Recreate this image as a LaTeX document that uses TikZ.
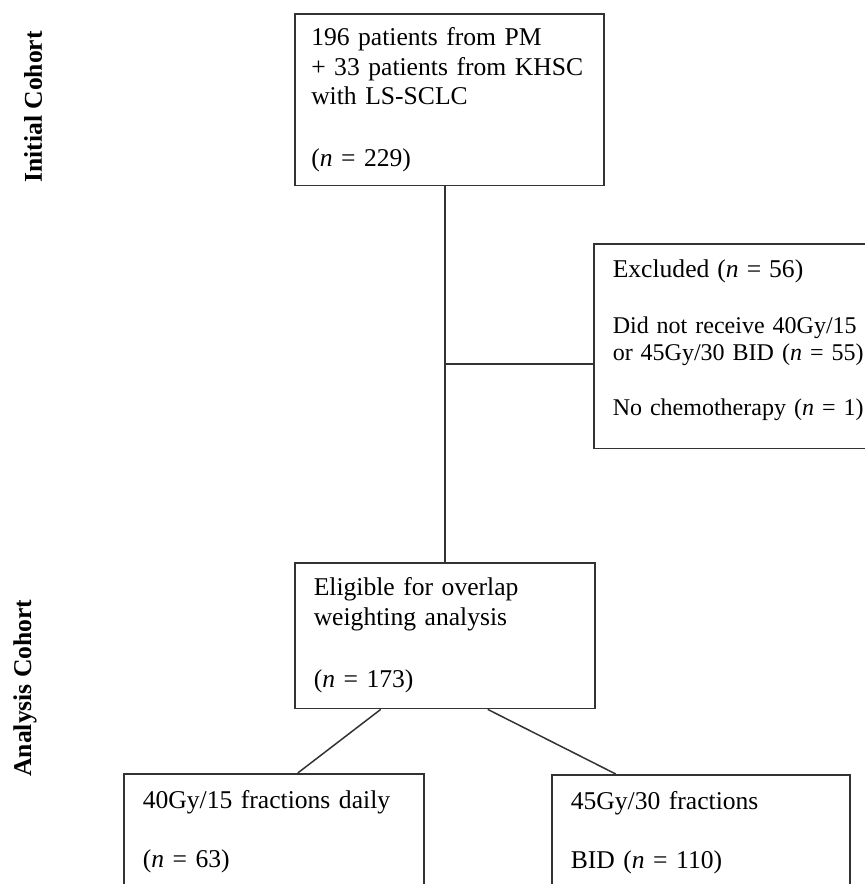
\documentclass[tikz,border=0pt]{standalone}
\usepackage{fontspec}
\setmainfont{Liberation Serif}
\usetikzlibrary{positioning}

\newcommand{\mainsize}{\fontsize{12.8pt}{14.75pt}\selectfont}
\newcommand{\smallsize}{\fontsize{12pt}{13.5pt}\selectfont}

\tikzset{
	box/.style={draw=black!80, line width=0.75pt, align=left, anchor=north west,
		font=\mainsize, inner xsep=9.5pt, inner ysep=7pt},
	link/.style={draw=black!80, line width=0.75pt},
	cohort/.style={rotate=90, font=\mainsize\bfseries}
}

\begin{document}
\begin{tikzpicture}[x=0.5pt, y=-0.5pt]
	\useasboundingbox (0,0) rectangle (865,884);
	\clip (0,0) rectangle (865,884);

	% cohort labels
	\node[cohort] (initlabel) at (33,107) {Initial Cohort};
	\node[cohort] (analysislabel) at (25,688) {Analysis Cohort};

	% boxes
	\node[box, text width=138pt, inner xsep=8.25pt, inner ysep=7pt] (initial) at (294,13)
		{196 patients from PM\\ + 33 patients from KHSC\\ with LS-SCLC\\[16pt] (\textit{n} = 229)};
	\node[box, text width=131pt, inner ysep=7.6pt] (eligible) at (294,562)
		{Eligible for overlap\\ weighting analysis\\[16.5pt] (\textit{n} = 173)};
	\node[box, text width=126pt, inner ysep=8pt, font=\smallsize] (excluded) at (593,243)
		{{\mainsize Excluded (\textit{n} = 56)}\\[14.5pt] Did not receive 40Gy/15\\ or 45Gy/30 BID (\textit{n} = 55)\\[14pt] No chemotherapy (\textit{n} = 1)\rule[-8.5pt]{0pt}{8.5pt}};
	\node[box, text width=131pt, inner ysep=8.6pt] (daily) at (123,773)
		{40Gy/15 fractions daily\\[14.75pt] (\textit{n} = 63)};
	\node[box, text width=130pt, inner ysep=8.6pt] (bid) at (551,774)
		{45Gy/30 fractions\\[14.75pt] BID (\textit{n} = 110)};

	% connectors
	\coordinate (split) at (eligible.north |- 0,364);
	\draw[link] (eligible.north) -- (eligible.north |- initial.south);
	\draw[link] (split) -- (split -| excluded.west);
	\draw[link] ([xshift=-32pt]eligible.south) -- ([xshift=12pt]daily.north);
	\draw[link] ([xshift=21.5pt]eligible.south) -- ([xshift=-42.5pt]bid.north);
\end{tikzpicture}
\end{document}
